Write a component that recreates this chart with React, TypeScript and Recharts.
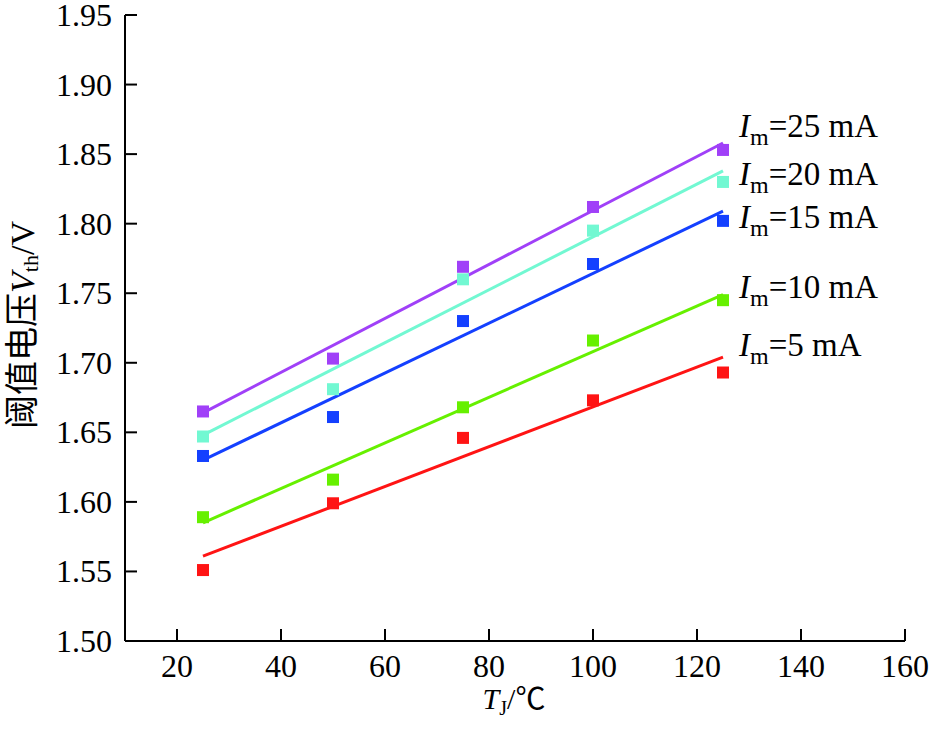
import { ScatterChart, Scatter, XAxis, YAxis } from "recharts"

const temps = [25, 50, 75, 100, 125]
const v5 = [1.551, 1.599, 1.646, 1.673, 1.693]
const v10 = [1.589, 1.616, 1.668, 1.716, 1.745]
const v15 = [1.633, 1.661, 1.73, 1.771, 1.802]
const v20 = [1.647, 1.681, 1.76, 1.795, 1.83]
const v25 = [1.665, 1.703, 1.769, 1.812, 1.853]

// fitted lines, read at T=25 and T=125
const fitX = [25, 125]
const fit5 = [1.561, 1.704]
const fit10 = [1.585, 1.749]
const fit15 = [1.63, 1.809]
const fit20 = [1.648, 1.838]
const fit25 = [1.664, 1.858]

const xTicks = [20, 40, 60, 80, 100, 120, 140, 160]
const yTicks = [1.5, 1.55, 1.6, 1.65, 1.7, 1.75, 1.8, 1.85, 1.9, 1.95]
const currents = ["25", "20", "15", "10", "5"]

const FONT = "'Liberation Serif', 'Times New Roman', 'Noto Sans CJK SC', serif"

const series = [
  { name: "25", color: "#A040F8", pts: v25, fit: fit25 },
  { name: "20", color: "#72F8D2", pts: v20, fit: fit20 },
  { name: "15", color: "#1440FF", pts: v15, fit: fit15 },
  { name: "10", color: "#66F000", pts: v10, fit: fit10 },
  { name: "5", color: "#FF1414", pts: v5, fit: fit5 },
]

const toPts = (ys: number[], xs: number[]) => xs.map((x, i) => ({ x, y: ys[i] }))

function XTick({ x, y, payload }: any) {
  return (
    <g>
      <line x1={x} y1={y} x2={x} y2={y - 12} stroke="#000" strokeWidth={2} />
      <text x={x} y={y + 36} textAnchor="middle" fontSize={32} fontFamily={FONT} fill="#000">
        {payload.value}
      </text>
    </g>
  )
}

function YTick({ x, y, payload }: any) {
  return (
    <g>
      <line x1={x} y1={y} x2={x + 12} y2={y} stroke="#000" strokeWidth={2} />
      <text x={x - 13} y={y + 11} textAnchor="end" fontSize={32} fontFamily={FONT} fill="#000">
        {payload.value.toFixed(2)}
      </text>
    </g>
  )
}

const labelY = [137, 185, 228, 298, 356]

export default function App() {
  return (
    <div style={{ position: "absolute", left: 0, top: 0, width: 930, height: 733 }}>
      <style>{`html,body{margin:0;overflow:hidden}.recharts-surface{overflow:visible}`}</style>
      <ScatterChart width={930} height={733} margin={{ top: 15, right: 25, bottom: 32, left: 25 }}>
        <XAxis
          type="number"
          dataKey="x"
          domain={[10, 160]}
          ticks={xTicks}
          tick={<XTick />}
          tickLine={false}
          tickSize={0}
          tickMargin={0}
          height={60}
          axisLine={{ stroke: "#000", strokeWidth: 2 }}
          allowDataOverflow
        />
        <XAxis xAxisId="top" orientation="top" type="number" domain={[10, 160]} tick={false} tickLine={false} height={0} axisLine={{ stroke: "#000", strokeWidth: 2 }} />
        <YAxis
          type="number"
          dataKey="y"
          domain={[1.5, 1.95]}
          ticks={yTicks}
          tick={<YTick />}
          tickLine={false}
          tickSize={0}
          tickMargin={0}
          width={100}
          axisLine={{ stroke: "#000", strokeWidth: 2 }}
          allowDataOverflow
        />
        <YAxis yAxisId="right" orientation="right" type="number" domain={[1.5, 1.95]} tick={false} tickLine={false} width={0} axisLine={{ stroke: "#000", strokeWidth: 2 }} />
        {series.map((s) => (
          <Scatter
            key={"fit" + s.name}
            data={toPts(s.fit, fitX)}
            line={{ stroke: s.color, strokeWidth: 3 }}
            shape={() => <g />}
            isAnimationActive={false}
          />
        ))}
        {series.map((s) => (
          <Scatter
            key={"pts" + s.name}
            data={toPts(s.pts, temps)}
            fill={s.color}
            shape={(p: any) => <rect x={p.cx - 6} y={p.cy - 6} width={12} height={12} fill={s.color} />}
            isAnimationActive={false}
          />
        ))}
      </ScatterChart>
      <svg width={930} height={733} style={{ position: "absolute", left: 0, top: 0, pointerEvents: "none" }}>
        {currents.map((c, i) => (
          <text key={c} x={739} y={labelY[i]} fontSize={33} fontFamily={FONT} fill="#000">
            <tspan fontStyle="italic">I</tspan>
            <tspan dy={8} fontSize={24}>m</tspan>
            <tspan dy={-8}>={c} mA</tspan>
          </text>
        ))}
        <text transform="translate(22,325) rotate(-90)" textAnchor="middle" dominantBaseline="central" fontSize={34} fontFamily={FONT} fill="#000">
          阈值电压<tspan fontStyle="italic">V</tspan>
          <tspan dy={8} fontSize={22}>th</tspan>
          <tspan dy={-8}>/V</tspan>
        </text>
        <text x={514} y={709} textAnchor="middle" fontSize={30} fontFamily={FONT} fill="#000">
          <tspan fontStyle="italic">T</tspan>
          <tspan dy={6} fontSize={20}>J</tspan>
          <tspan dy={-6}>/℃</tspan>
        </text>
      </svg>
    </div>
  )
}
